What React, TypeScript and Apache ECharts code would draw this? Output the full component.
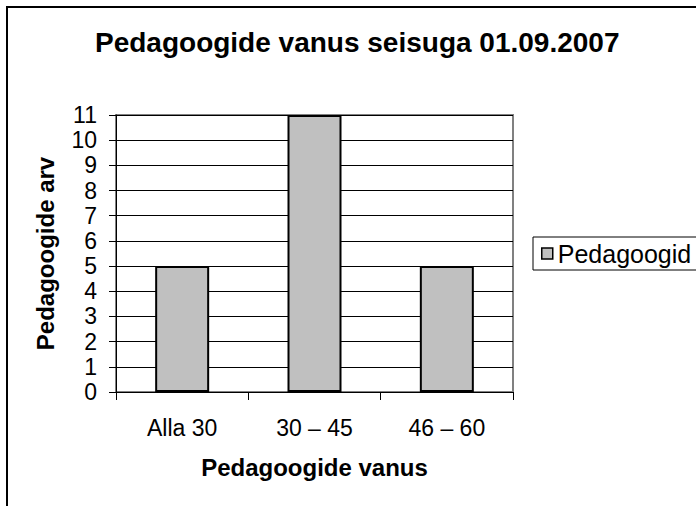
import React, { useEffect, useRef } from "react";
import * as echarts from "echarts";

const categories = ["Alla 30", "30 – 45", "46 – 60"];
const values = [5, 11, 5];
const seriesName = "Pedagoogid";
const titleText = "Pedagoogide vanus seisuga 01.09.2007";
const xName = "Pedagoogide vanus";
const yName = "Pedagoogide arv";

const FONT = "'Liberation Sans', Arial, sans-serif";

export default function App() {
  const ref = useRef<HTMLDivElement>(null);
  useEffect(() => {
    document.body.style.margin = "0";
    const chart = echarts.init(ref.current!, null, { renderer: "svg" });
    chart.setOption({
      animation: false,
      backgroundColor: "#ffffff",
      textStyle: { fontFamily: FONT },
      title: {
        text: titleText,
        left: 95,
        top: 28,
        padding: 0,
        textStyle: { fontSize: 28, fontWeight: "bold", color: "#000", fontFamily: FONT },
      },
      legend: {
        data: [seriesName],
        left: 533,
        top: 237,
        orient: "vertical",
        icon: "rect",
        itemWidth: 11,
        itemHeight: 11,
        borderColor: "#000",
        borderWidth: 1,
        padding: [4, 30, 4, 8],
        textStyle: { fontSize: 25, color: "#000", fontFamily: FONT },
        itemStyle: { color: "#c0c0c0", borderColor: "#000", borderWidth: 1.5 },
      },
      grid: {
        left: 116,
        right: 183,
        top: 115,
        bottom: 114,
        show: true,
        borderColor: "#808080",
        borderWidth: 2,
        backgroundColor: "transparent",
      },
      xAxis: {
        type: "category",
        data: categories,
        name: xName,
        nameLocation: "middle",
        nameGap: 63,
        nameTextStyle: { fontSize: 24, fontWeight: "bold", color: "#000", fontFamily: FONT },
        axisLine: { lineStyle: { color: "#000", width: 1 } },
        axisTick: { show: true, length: 8, alignWithLabel: false, lineStyle: { color: "#000" } },
        axisLabel: { fontSize: 23, color: "#000", margin: 24, fontFamily: FONT },
        splitLine: { show: false },
      },
      yAxis: {
        type: "value",
        min: 0,
        max: 11,
        interval: 1,
        name: yName,
        nameLocation: "middle",
        nameGap: 59,
        nameRotate: 90,
        nameTextStyle: { fontSize: 24, fontWeight: "bold", color: "#000", fontFamily: FONT },
        axisLine: { show: true, lineStyle: { color: "#000", width: 1 } },
        axisTick: { show: true, length: 7, inside: false, lineStyle: { color: "#000" } },
        axisLabel: { fontSize: 23, color: "#000", margin: 19, fontFamily: FONT },
        splitLine: { show: true, lineStyle: { color: "#000", width: 1 } },
      },
      series: [
        {
          name: seriesName,
          type: "bar",
          data: values,
          barWidth: 54,
          itemStyle: { color: "#c0c0c0", borderColor: "#000", borderWidth: 2 },
        },
      ],
      graphic: [
        {
          type: "rect",
          shape: { x: 7, y: 7, width: 760, height: 560 },
          style: { fill: "none", stroke: "#000", lineWidth: 2 },
          silent: true,
          z: 100,
        },
      ],
    });
    return () => chart.dispose();
  }, []);
  return <div ref={ref} style={{ position: "absolute", left: 0, top: 0, width: 696, height: 506 }} />;
}
